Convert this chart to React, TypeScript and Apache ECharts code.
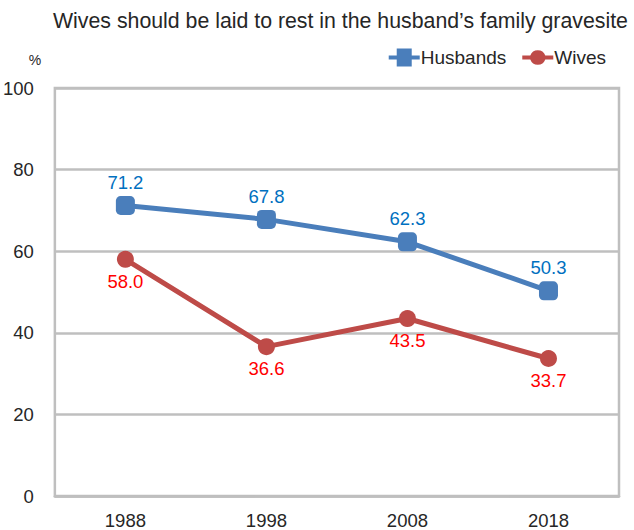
import React, { useEffect, useRef } from "react";
import * as echarts from "echarts";

const years = ["1988", "1998", "2008", "2018"];
const husbands = [71.2, 67.8, 62.3, 50.3];
const wives = [58.0, 36.6, 43.5, 33.7];
const titleText = "Wives should be laid to rest in the husband\u2019s family gravesite";

export default function App() {
  const ref = useRef<HTMLDivElement>(null);
  useEffect(() => {
    if (!ref.current) return;
    const chart = echarts.init(ref.current, undefined, { renderer: "svg" });
    const font = "Liberation Sans, Arial, sans-serif";
    const fs = 18.5;
    chart.setOption({
      animation: false,
      textStyle: { fontFamily: font },
      title: {
        text: titleText,
        left: 48,
        top: 5,
        textStyle: { fontSize: 21.3, fontWeight: "normal", color: "#262626", fontFamily: font },
      },
      graphic: [
        {
          type: "text",
          x: 35,
          y: 60,
          style: { text: "%", fontSize: 14, fill: "#262626", fontFamily: font, align: "center", verticalAlign: "middle" },
        },
      ],
      legend: {
        right: 23,
        top: 43,
        itemWidth: 31,
        itemHeight: 18,
        itemGap: 16,
        textStyle: { fontSize: 19, color: "#262626", fontFamily: font, padding: [0, 0, 0, -4] },
        data: [
          { name: "Husbands", icon: "path://M0,7 L8,7 L8,0 L23,0 L23,7 L31,7 L31,11 L23,11 L23,18 L8,18 L8,11 L0,11 Z" },
          { name: "Wives", icon: "path://M0,7 L8,7 A8,8 0 0 1 23,7 L31,7 L31,11 L23,11 A8,8 0 0 1 8,11 L0,11 Z" },
        ],
      },
      grid: {
        left: 54,
        right: 15,
        top: 88,
        bottom: 33,
        show: true,
        borderColor: "#bfbfbf",
        borderWidth: 2.5,
      },
      xAxis: {
        type: "category",
        data: years,
        boundaryGap: true,
        axisLine: { show: true, lineStyle: { color: "#bfbfbf", width: 2.5 } },
        axisTick: { show: false },
        axisLabel: { fontSize: fs, color: "#262626", margin: 15, fontFamily: font },
      },
      yAxis: {
        type: "value",
        min: 0,
        max: 100,
        interval: 20,
        axisLine: { show: false },
        axisTick: { show: false },
        splitLine: { lineStyle: { color: "#bfbfbf", width: 2.5 } },
        axisLabel: { fontSize: fs, color: "#262626", margin: 21, fontFamily: font },
      },
      series: [
        {
          name: "Husbands",
          type: "line",
          data: husbands,
          symbol: "roundRect",
          symbolSize: 19,
          itemStyle: { color: "#4a7ebb" },
          lineStyle: { color: "#4a7ebb", width: 5 },
          label: {
            show: true,
            position: "top",
            distance: 4,
            fontSize: fs,
            color: "#0070c0",
            fontFamily: font,
            formatter: (p: any) => Number(p.value).toFixed(1),
          },
        },
        {
          name: "Wives",
          type: "line",
          data: wives,
          symbol: "circle",
          symbolSize: 17,
          itemStyle: { color: "#be4b48" },
          lineStyle: { color: "#be4b48", width: 5 },
          label: {
            show: true,
            position: "bottom",
            distance: 4,
            fontSize: fs,
            color: "#ff0000",
            fontFamily: font,
            formatter: (p: any) => Number(p.value).toFixed(1),
          },
        },
      ],
    });
    return () => chart.dispose();
  }, []);
  return <div ref={ref} style={{ width: 634, height: 530, position: "absolute", left: 0, top: 0 }} />;
}
